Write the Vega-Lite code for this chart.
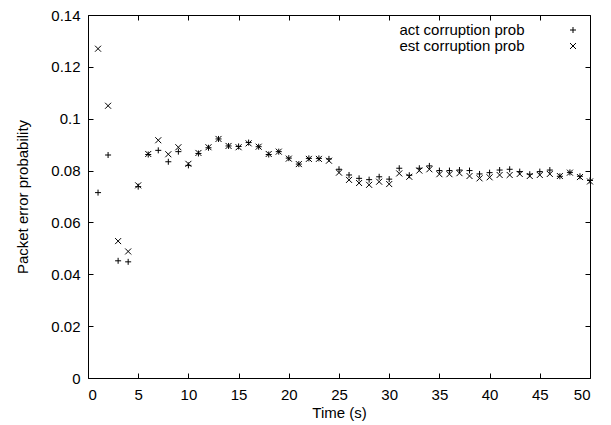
{
  "$schema": "https://vega.github.io/schema/vega-lite/v6.json",
  "width": 502,
  "height": 363,
  "autosize": {"type": "none"},
  "padding": {"left": 88, "top": 15, "right": 21, "bottom": 47},
  "background": "white",
  "config": {
    "view": {"stroke": "black", "strokeWidth": 1},
    "font": "Liberation Sans",
    "axis": {
      "domain": false,
      "grid": false,
      "tickColor": "black",
      "tickSize": -5,
      "tickWidth": 1,
      "labelColor": "black",
      "labelFont": "Liberation Sans",
      "labelFontSize": 15,
      "titleColor": "black",
      "titleFont": "Liberation Sans",
      "titleFontSize": 15,
      "titleFontWeight": "normal"
    }
  },
  "data": {
    "values": [
      {"t": 1, "series": "act corruption prob", "p": 0.0715},
      {"t": 2, "series": "act corruption prob", "p": 0.086},
      {"t": 3, "series": "act corruption prob", "p": 0.0452},
      {"t": 4, "series": "act corruption prob", "p": 0.0448},
      {"t": 5, "series": "act corruption prob", "p": 0.0738},
      {"t": 6, "series": "act corruption prob", "p": 0.0862},
      {"t": 7, "series": "act corruption prob", "p": 0.0878},
      {"t": 8, "series": "act corruption prob", "p": 0.0834},
      {"t": 9, "series": "act corruption prob", "p": 0.0873},
      {"t": 10, "series": "act corruption prob", "p": 0.082},
      {"t": 11, "series": "act corruption prob", "p": 0.0866},
      {"t": 12, "series": "act corruption prob", "p": 0.0888},
      {"t": 13, "series": "act corruption prob", "p": 0.0922},
      {"t": 14, "series": "act corruption prob", "p": 0.0895},
      {"t": 15, "series": "act corruption prob", "p": 0.0893},
      {"t": 16, "series": "act corruption prob", "p": 0.0908},
      {"t": 17, "series": "act corruption prob", "p": 0.0892},
      {"t": 18, "series": "act corruption prob", "p": 0.0862},
      {"t": 19, "series": "act corruption prob", "p": 0.0873},
      {"t": 20, "series": "act corruption prob", "p": 0.0848},
      {"t": 21, "series": "act corruption prob", "p": 0.0825},
      {"t": 22, "series": "act corruption prob", "p": 0.0847},
      {"t": 23, "series": "act corruption prob", "p": 0.0847},
      {"t": 24, "series": "act corruption prob", "p": 0.0845},
      {"t": 25, "series": "act corruption prob", "p": 0.0805},
      {"t": 26, "series": "act corruption prob", "p": 0.0783},
      {"t": 27, "series": "act corruption prob", "p": 0.077},
      {"t": 28, "series": "act corruption prob", "p": 0.0765},
      {"t": 29, "series": "act corruption prob", "p": 0.0776},
      {"t": 30, "series": "act corruption prob", "p": 0.0767},
      {"t": 31, "series": "act corruption prob", "p": 0.0809},
      {"t": 32, "series": "act corruption prob", "p": 0.0782},
      {"t": 33, "series": "act corruption prob", "p": 0.0809},
      {"t": 34, "series": "act corruption prob", "p": 0.0818},
      {"t": 35, "series": "act corruption prob", "p": 0.08},
      {"t": 36, "series": "act corruption prob", "p": 0.08},
      {"t": 37, "series": "act corruption prob", "p": 0.0802},
      {"t": 38, "series": "act corruption prob", "p": 0.08},
      {"t": 39, "series": "act corruption prob", "p": 0.0787},
      {"t": 40, "series": "act corruption prob", "p": 0.0792},
      {"t": 41, "series": "act corruption prob", "p": 0.0802},
      {"t": 42, "series": "act corruption prob", "p": 0.0805},
      {"t": 43, "series": "act corruption prob", "p": 0.0796},
      {"t": 44, "series": "act corruption prob", "p": 0.0786},
      {"t": 45, "series": "act corruption prob", "p": 0.0796},
      {"t": 46, "series": "act corruption prob", "p": 0.0802},
      {"t": 47, "series": "act corruption prob", "p": 0.0778},
      {"t": 48, "series": "act corruption prob", "p": 0.0793},
      {"t": 49, "series": "act corruption prob", "p": 0.0778},
      {"t": 50, "series": "act corruption prob", "p": 0.0762},
      {"t": 1, "series": "est corruption prob", "p": 0.127},
      {"t": 2, "series": "est corruption prob", "p": 0.105},
      {"t": 3, "series": "est corruption prob", "p": 0.0528},
      {"t": 4, "series": "est corruption prob", "p": 0.0488},
      {"t": 5, "series": "est corruption prob", "p": 0.0743},
      {"t": 6, "series": "est corruption prob", "p": 0.0864},
      {"t": 7, "series": "est corruption prob", "p": 0.0917},
      {"t": 8, "series": "est corruption prob", "p": 0.0863},
      {"t": 9, "series": "est corruption prob", "p": 0.089},
      {"t": 10, "series": "est corruption prob", "p": 0.0826},
      {"t": 11, "series": "est corruption prob", "p": 0.0868},
      {"t": 12, "series": "est corruption prob", "p": 0.089},
      {"t": 13, "series": "est corruption prob", "p": 0.0922},
      {"t": 14, "series": "est corruption prob", "p": 0.0895},
      {"t": 15, "series": "est corruption prob", "p": 0.089},
      {"t": 16, "series": "est corruption prob", "p": 0.0905},
      {"t": 17, "series": "est corruption prob", "p": 0.0892},
      {"t": 18, "series": "est corruption prob", "p": 0.0864},
      {"t": 19, "series": "est corruption prob", "p": 0.0873},
      {"t": 20, "series": "est corruption prob", "p": 0.0846},
      {"t": 21, "series": "est corruption prob", "p": 0.0825},
      {"t": 22, "series": "est corruption prob", "p": 0.0845},
      {"t": 23, "series": "est corruption prob", "p": 0.0845},
      {"t": 24, "series": "est corruption prob", "p": 0.0838},
      {"t": 25, "series": "est corruption prob", "p": 0.0792},
      {"t": 26, "series": "est corruption prob", "p": 0.0764},
      {"t": 27, "series": "est corruption prob", "p": 0.0752},
      {"t": 28, "series": "est corruption prob", "p": 0.0745},
      {"t": 29, "series": "est corruption prob", "p": 0.0757},
      {"t": 30, "series": "est corruption prob", "p": 0.0748},
      {"t": 31, "series": "est corruption prob", "p": 0.0789},
      {"t": 32, "series": "est corruption prob", "p": 0.0776},
      {"t": 33, "series": "est corruption prob", "p": 0.08},
      {"t": 34, "series": "est corruption prob", "p": 0.0805},
      {"t": 35, "series": "est corruption prob", "p": 0.0786},
      {"t": 36, "series": "est corruption prob", "p": 0.0786},
      {"t": 37, "series": "est corruption prob", "p": 0.079},
      {"t": 38, "series": "est corruption prob", "p": 0.0779},
      {"t": 39, "series": "est corruption prob", "p": 0.077},
      {"t": 40, "series": "est corruption prob", "p": 0.0774},
      {"t": 41, "series": "est corruption prob", "p": 0.0783},
      {"t": 42, "series": "est corruption prob", "p": 0.0783},
      {"t": 43, "series": "est corruption prob", "p": 0.0787},
      {"t": 44, "series": "est corruption prob", "p": 0.0779},
      {"t": 45, "series": "est corruption prob", "p": 0.0783},
      {"t": 46, "series": "est corruption prob", "p": 0.0787},
      {"t": 47, "series": "est corruption prob", "p": 0.0779},
      {"t": 48, "series": "est corruption prob", "p": 0.0792},
      {"t": 49, "series": "est corruption prob", "p": 0.0775},
      {"t": 50, "series": "est corruption prob", "p": 0.0758}
    ]
  },
  "layer": [
    {
      "mark": {"type": "point", "filled": false, "strokeWidth": 1, "color": "black", "size": 36, "opacity": 1},
      "encoding": {
        "x": {
          "field": "t", "type": "quantitative",
          "scale": {"domain": [0, 50], "nice": false},
          "axis": {"orient": "bottom", "values": [0, 5, 10, 15, 20, 25, 30, 35, 40, 45, 50], "title": "Time (s)", "labelPadding": 14, "titlePadding": 3}
        },
        "y": {
          "field": "p", "type": "quantitative",
          "scale": {"domain": [0, 0.14], "nice": false},
          "axis": {"orient": "left", "values": [0, 0.02, 0.04, 0.06, 0.08, 0.1, 0.12, 0.14], "format": "~g", "title": "Packet error probability", "labelPadding": 13, "titlePadding": 20}
        },
        "shape": {
          "field": "series", "type": "nominal",
          "scale": {"domain": ["act corruption prob", "est corruption prob"], "range": ["M-1,0L1,0M0,-1L0,1", "M-1,-1L1,1M-1,1L1,-1"]},
          "legend": {
            "orient": "none", "legendX": 477.5, "legendY": 7.5, "title": null, "padding": 0,
            "labelAlign": "right", "labelOffset": -56, "labelFontSize": 15, "labelColor": "black", "labelFont": "Liberation Sans",
            "symbolSize": 36, "symbolStrokeColor": "black", "symbolFillColor": "transparent", "symbolStrokeWidth": 1, "rowPadding": -1
          }
        }
      }
    },
    {
      "mark": {"type": "point", "opacity": 0},
      "encoding": {
        "x": {
          "field": "t", "type": "quantitative",
          "scale": {"domain": [0, 50], "nice": false},
          "axis": {"orient": "top", "values": [0, 5, 10, 15, 20, 25, 30, 35, 40, 45, 50], "labels": false, "title": null}
        },
        "y": {
          "field": "p", "type": "quantitative",
          "scale": {"domain": [0, 0.14], "nice": false},
          "axis": {"orient": "right", "values": [0, 0.02, 0.04, 0.06, 0.08, 0.1, 0.12, 0.14], "labels": false, "title": null}
        }
      }
    }
  ],
  "resolve": {"axis": {"x": "independent", "y": "independent"}}
}
